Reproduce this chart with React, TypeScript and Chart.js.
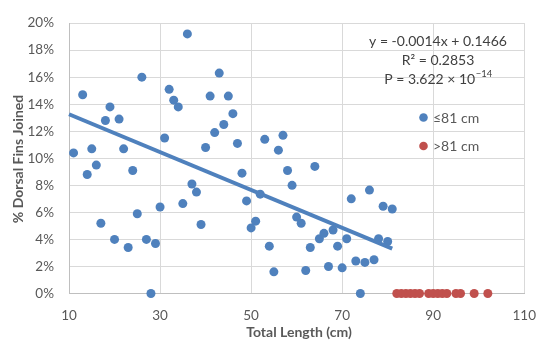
import React, { useEffect, useRef } from "react";
import { Chart, registerables } from "chart.js";

Chart.register(...registerables);

// ≤81 cm series: total length (cm) and % dorsal fins joined
const smallLengths = [
  11, 13, 14, 15, 16, 17, 18, 19, 20, 21, 22, 23, 24, 25, 26, 27, 28, 29, 30, 31,
  32, 33, 34, 35, 36, 37, 38, 39, 40, 41, 42, 43, 44, 45, 46, 47, 48, 49, 50, 51,
  52, 53, 54, 55, 56, 57, 58, 59, 60, 61, 62, 63, 64, 65, 66, 67, 68, 69, 70, 71,
  72, 73, 74, 75, 76, 77, 78, 79, 80, 81,
];
const smallJoined = [
  10.4, 14.7, 8.8, 10.7, 9.5, 5.2, 12.8, 13.8, 4.0, 12.9, 10.7, 3.4, 9.1, 5.9, 16.0, 4.0, 0, 3.7, 6.4, 11.5,
  15.1, 14.3, 13.8, 6.65, 19.2, 8.1, 7.5, 5.1, 10.8, 14.6, 11.9, 16.3, 12.5, 14.6, 13.3, 11.1, 8.9, 6.85, 4.85, 5.35,
  7.35, 11.4, 3.5, 1.6, 10.6, 11.7, 9.1, 8.0, 5.65, 5.2, 1.7, 3.4, 9.4, 4.05, 4.45, 2.0, 4.7, 3.5, 1.9, 4.05,
  7.0, 2.4, 0, 2.3, 7.65, 2.5, 4.05, 6.45, 3.85, 6.25,
];

// >81 cm series
const largeLengths = [82, 83, 84, 85, 86, 87, 89, 90, 91, 92, 93, 95, 96, 99, 102];
const largeJoined = [0, 0, 0, 0, 0, 0, 0, 0, 0, 0, 0, 0, 0, 0, 0];

// Linear trend (fraction units): y = slope*x + intercept
const trendSlope = -0.0014;
const trendIntercept = 0.1466;
const trendRange = [10, 81];

const xTicks = [10, 30, 50, 70, 90, 110];
const yTicks = [0, 2, 4, 6, 8, 10, 12, 14, 16, 18, 20];

const legendLabels = ["≤81 cm", ">81 cm"];
const eqLine1 = "y = -0.0014x + 0.1466";
const eqLine2 = "R² = 0.2853";
const eqLine3Base = "P = 3.622 × 10";
const eqLine3Sup = "−14";

const BLUE = "#4F81BD";
const RED = "#C0504D";
const FONT = "Lato, 'Open Sans', sans-serif";

const overlayPlugin = {
  id: "overlay",
  afterDraw(chart: any) {
    const ctx = chart.ctx as CanvasRenderingContext2D;
    ctx.save();
    // axis titles
    ctx.fillStyle = "#595959";
    ctx.font = `bold 14px ${FONT}`;
    ctx.textAlign = "center";
    ctx.textBaseline = "middle";
    ctx.fillText("Total Length (cm)", 299, 332);
    ctx.save();
    ctx.translate(18, 159);
    ctx.rotate(-Math.PI / 2);
    ctx.fillText("% Dorsal Fins Joined", 0, 0);
    ctx.restore();

    // equation annotation
    const cx = 438;
    ctx.fillStyle = "#404040";
    ctx.font = `14px ${FONT}`;
    ctx.fillText(eqLine1, cx, 41);
    ctx.fillText(eqLine2, cx, 60);
    const wBase = ctx.measureText(eqLine3Base).width;
    ctx.font = `9.5px ${FONT}`;
    const wSup = ctx.measureText(eqLine3Sup).width;
    const start = cx - (wBase + wSup) / 2;
    ctx.textAlign = "left";
    ctx.font = `14px ${FONT}`;
    ctx.fillText(eqLine3Base, start, 79);
    ctx.font = `9.5px ${FONT}`;
    ctx.fillText(eqLine3Sup, start + wBase + 0.5, 74);

    // legend
    const legendColors = [BLUE, RED];
    const legendY = [117.5, 146];
    ctx.font = `14px ${FONT}`;
    ctx.textBaseline = "middle";
    legendLabels.forEach((lab, i) => {
      ctx.fillStyle = legendColors[i];
      ctx.beginPath();
      ctx.arc(423.5, legendY[i], 4.3, 0, Math.PI * 2);
      ctx.fill();
      ctx.fillStyle = "#595959";
      ctx.fillText(lab, 433, legendY[i] + 0.5);
    });
    ctx.restore();
  },
};

export default function App() {
  const canvasRef = useRef<HTMLCanvasElement | null>(null);

  useEffect(() => {
    if (!canvasRef.current) return;
    const smallData = smallLengths.map((x, i) => ({ x, y: smallJoined[i] }));
    const largeData = largeLengths.map((x, i) => ({ x, y: largeJoined[i] }));
    const trendData = trendRange.map((x) => ({ x, y: (trendSlope * x + trendIntercept) * 100 }));

    const chart = new Chart(canvasRef.current, {
      type: "scatter",
      data: {
        datasets: [
          {
            type: "line",
            label: "Trend",
            data: trendData,
            borderColor: BLUE,
            borderWidth: 4,
            pointRadius: 0,
            fill: false,
            order: 0,
            clip: false,
          } as any,
          {
            label: legendLabels[0],
            data: smallData,
            backgroundColor: BLUE,
            borderColor: BLUE,
            borderWidth: 0,
            pointRadius: 4.5,
            order: 1,
            clip: false,
          },
          {
            label: legendLabels[1],
            data: largeData,
            backgroundColor: RED,
            borderColor: RED,
            borderWidth: 0,
            pointRadius: 4.5,
            order: 1,
            clip: false,
          },
        ],
      },
      options: {
        animation: false,
        responsive: true,
        maintainAspectRatio: false,
        layout: { padding: { top: 14, right: 18.5, left: 0, bottom: 0 } },
        plugins: {
          legend: { display: false },
          tooltip: { enabled: false },
        },
        scales: {
          x: {
            type: "linear",
            min: xTicks[0],
            max: xTicks[xTicks.length - 1],
            afterBuildTicks: (scale: any) => {
              scale.ticks = xTicks.map((v) => ({ value: v }));
            },
            afterFit: (scale: any) => {
              scale.height = 54.5;
            },
            ticks: {
              color: "#595959",
              font: { family: FONT, size: 13.5 },
              padding: 14,
              maxRotation: 0,
            },
            grid: { color: "#D9D9D9", drawTicks: false, lineWidth: 1 },
            border: { color: "#BFBFBF", width: 1 },
          },
          y: {
            type: "linear",
            min: yTicks[0],
            max: yTicks[yTicks.length - 1],
            afterBuildTicks: (scale: any) => {
              scale.ticks = yTicks.map((v) => ({ value: v }));
            },
            afterFit: (scale: any) => {
              scale.width = 69;
            },
            ticks: {
              color: "#595959",
              font: { family: FONT, size: 13.5 },
              padding: 15,
              callback: (v: any) => `${v}%`,
            },
            grid: { color: "#D9D9D9", drawTicks: false, lineWidth: 1 },
            border: { color: "#BFBFBF", width: 1 },
          },
        },
      },
      plugins: [overlayPlugin],
    });
    return () => chart.destroy();
  }, []);

  return (
    <div style={{ position: "absolute", left: 0, top: 0, width: 550, height: 348, background: "#fff" }}>
      <canvas ref={canvasRef} />
    </div>
  );
}
